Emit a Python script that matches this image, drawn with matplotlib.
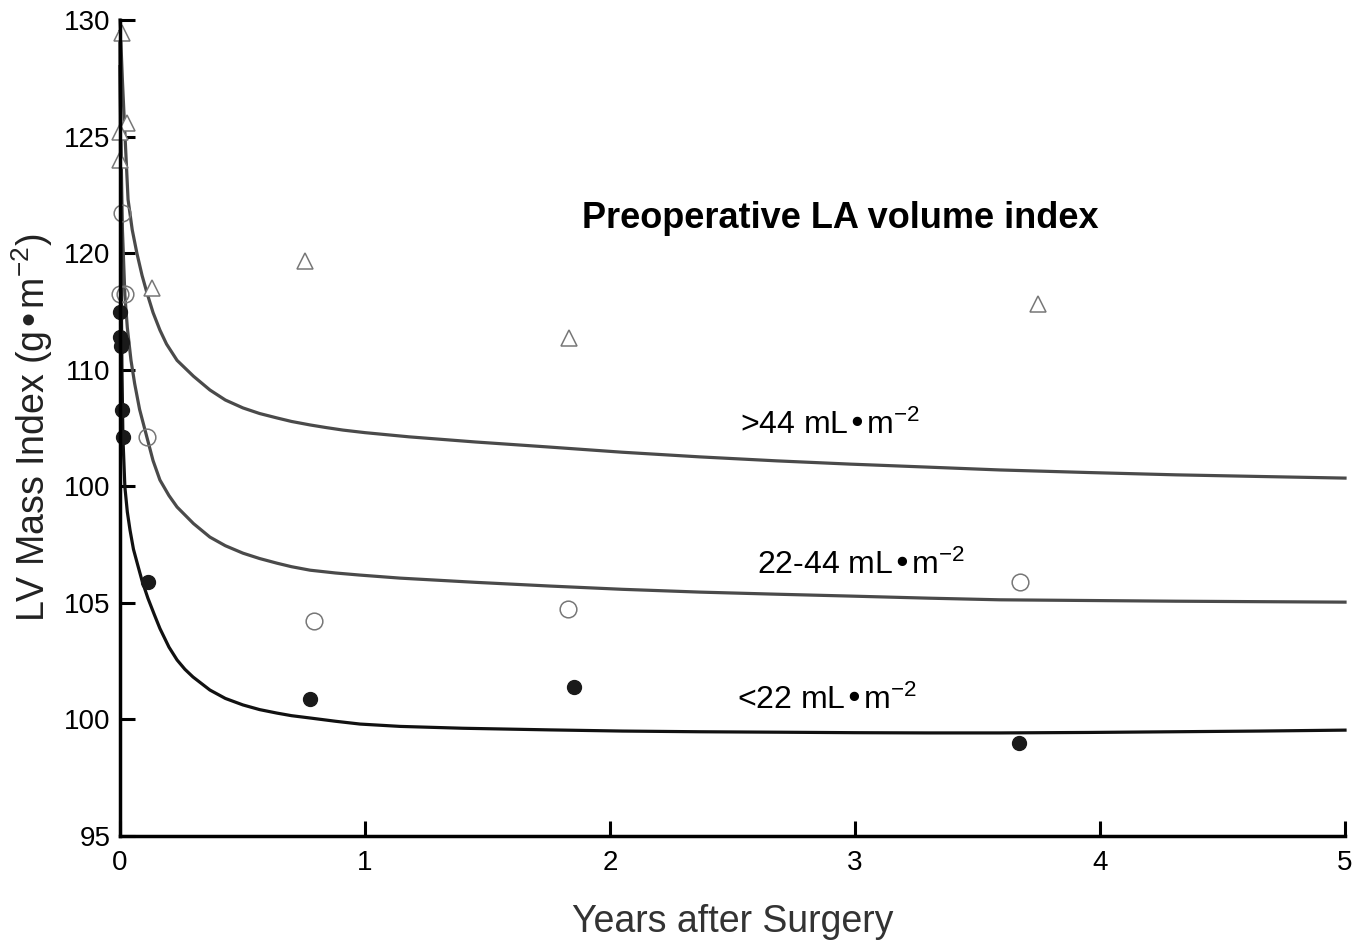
import matplotlib.pyplot as plt

plt.rcParams['font.family'] = ['Liberation Sans', 'DejaVu Sans']
plt.rcParams['mathtext.default'] = 'regular'

# fitted curves (years, LV mass index)
hi_curve_x = [0.0, 0.01, 0.02, 0.033, 0.05, 0.069, 0.09, 0.11, 0.135, 0.163, 0.19, 0.233,
              0.3, 0.367, 0.43, 0.502, 0.57, 0.641, 0.7, 0.776, 0.84, 0.91, 1.0, 1.18,
              1.45, 1.755, 2.05, 2.367, 2.68, 2.98, 3.3, 3.59, 3.95, 4.31, 4.65, 5.0]
hi_curve_y = [130.0, 127.4, 125.15, 122.3, 121.0, 120.0, 119.05, 118.3, 117.45, 116.7, 116.1, 115.4,
              114.72, 114.13, 113.7, 113.36, 113.12, 112.93, 112.78, 112.63, 112.52, 112.41, 112.3, 112.12,
              111.9, 111.68, 111.46, 111.26, 111.09, 110.95, 110.82, 110.7, 110.59, 110.49, 110.42, 110.35]

mid_curve_x = [0.0, 0.005, 0.01, 0.02, 0.03, 0.045, 0.06, 0.08, 0.11, 0.135, 0.163, 0.2, 0.233,
               0.3, 0.367, 0.43, 0.502, 0.57, 0.641, 0.7, 0.776, 0.88, 0.98, 1.143, 1.45,
               1.755, 2.05, 2.367, 2.68, 2.98, 3.3, 3.59, 3.95, 4.31, 4.65, 5.0]
mid_curve_y = [128.0, 124.0, 121.0, 118.2, 116.8, 115.4, 114.4, 113.3, 112.1, 111.1, 110.27, 109.6, 109.11,
               108.4, 107.82, 107.45, 107.13, 106.9, 106.7, 106.55, 106.4, 106.28, 106.19, 106.06, 105.88,
               105.72, 105.58, 105.46, 105.37, 105.29, 105.2, 105.13, 105.1, 105.07, 105.05, 105.03]

lo_curve_x = [0.0, 0.004, 0.008, 0.012, 0.02, 0.03, 0.041, 0.055, 0.073, 0.09, 0.114, 0.14, 0.163,
              0.2, 0.233, 0.265, 0.298, 0.367, 0.43, 0.502, 0.57, 0.641, 0.7, 0.776, 0.88, 0.98,
              1.143, 1.4, 1.755, 2.05, 2.367, 2.7, 3.0, 3.3, 3.59, 3.95, 4.3, 4.65, 5.0]
lo_curve_y = [129.5, 120.0, 115.0, 112.1, 109.97, 108.9, 108.12, 107.3, 106.6, 105.95, 105.2, 104.5, 103.9,
              103.1, 102.55, 102.15, 101.82, 101.26, 100.9, 100.62, 100.42, 100.27, 100.16, 100.06, 99.92, 99.8,
              99.7, 99.62, 99.55, 99.5, 99.47, 99.45, 99.43, 99.42, 99.42, 99.44, 99.47, 99.5, 99.54]

# observed points
hi_pts_x = [0.008, 0.03, 0.0, 0.0, 0.13, 0.755, 1.833, 3.747]
hi_pts_y = [129.44, 125.58, 125.2, 124.0, 118.5, 119.66, 116.36, 117.82]

mid_pts_x = [0.008, 0.0, 0.02, 0.11, 0.79, 1.829, 3.673]
mid_pts_y = [121.72, 118.25, 118.25, 112.11, 104.22, 104.73, 105.89]

lo_pts_x = [0.0, 0.0, 0.01, 0.005, 0.008, 0.012, 0.114, 0.776, 1.853, 3.669]
lo_pts_y = [117.47, 116.4, 116.2, 116.0, 113.27, 112.11, 105.89, 100.87, 101.39, 98.99]

yticks = [95, 100, 105, 110, 115, 120, 125, 130]
ytick_labels = ['95', '100', '105', '100', '110', '120', '125', '130']
xticks = [0, 1, 2, 3, 4, 5]

fig = plt.figure(figsize=(13.68, 9.43), dpi=100)
ax = fig.add_axes([0.0877, 0.1135, 0.8955, 0.8653])

ax.plot(hi_curve_x, hi_curve_y, color='#4a4a4a', lw=2.3, clip_on=False)
ax.plot(mid_curve_x, mid_curve_y, color='#4a4a4a', lw=2.3, clip_on=False)
ax.plot(lo_curve_x, lo_curve_y, color='#111111', lw=2.3, clip_on=False)

ax.plot(hi_pts_x, hi_pts_y, ls='none', marker='^', ms=12, mfc='white', mec='#777777',
        mew=1.1, clip_on=False)
ax.plot(mid_pts_x, mid_pts_y, ls='none', marker='o', ms=12, mfc='none', mec='#777777',
        mew=1.1, clip_on=False)
ax.plot(lo_pts_x, lo_pts_y, ls='none', marker='o', ms=10, mfc='#1a1a1a', mec='#1a1a1a',
        clip_on=False)

ax.text(2.94, 121.5, 'Preoperative LA volume index', fontsize=26, fontweight='bold',
        ha='center', va='center')
ax.text(2.53, 112.6, '>44 mL•m$^{-2}$', fontsize=23, ha='left', va='center')
ax.text(2.6, 106.62, '22-44 mL•m$^{-2}$', fontsize=23, ha='left', va='center')
ax.text(2.52, 100.83, '<22 mL•m$^{-2}$', fontsize=23, ha='left', va='center')

ax.set_xlim(0, 5)
ax.set_ylim(95, 130)
ax.set_xticks(xticks)
ax.set_yticks(yticks)
ax.set_yticklabels(ytick_labels)
ax.tick_params(direction='in', length=11, width=2.2, labelsize=20, color='black')
ax.tick_params(axis='y', pad=7)
ax.tick_params(axis='x', pad=10)

for side in ['top', 'right']:
    ax.spines[side].set_visible(False)
for side in ['left', 'bottom']:
    ax.spines[side].set_linewidth(2.5)

ax.set_xlabel('Years after Surgery', fontsize=27, color='#333333', labelpad=20)
ax.set_ylabel('LV Mass Index (g•m$^{-2}$)', fontsize=27, color='#222222', labelpad=6)

fig.savefig('out.png', dpi=100)
